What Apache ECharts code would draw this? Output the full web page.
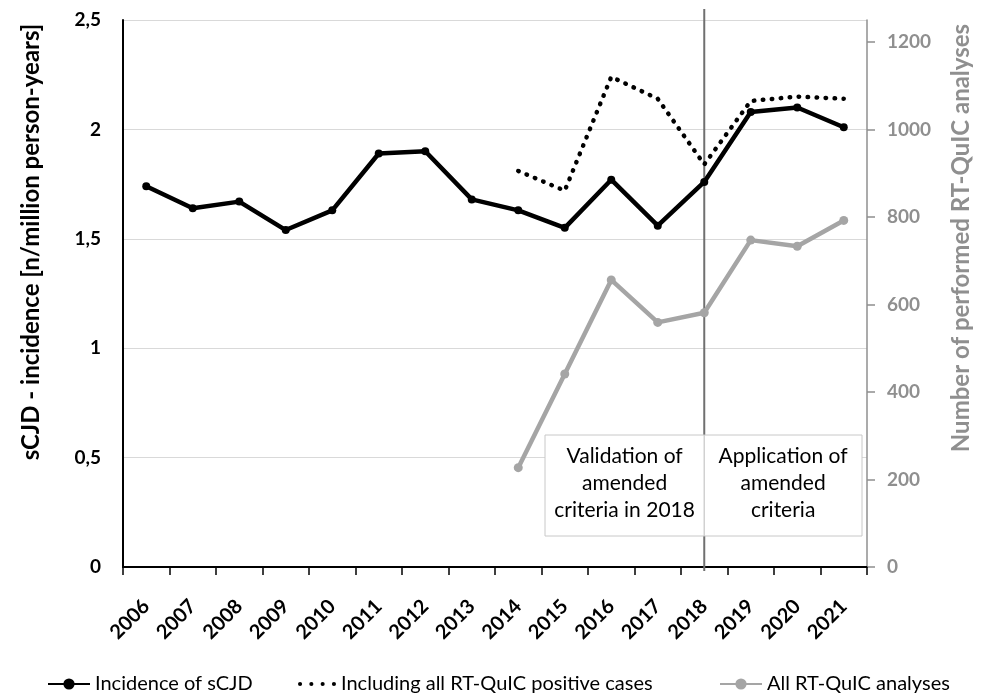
<!DOCTYPE html>
<html>
<head>
<meta charset="utf-8">
<script src="https://cdn.jsdelivr.net/npm/echarts@6/dist/echarts.min.js"></script>
<style>
  html, body { margin: 0; padding: 0; background: #ffffff; }
  #chart { width: 983px; height: 695px; }
</style>
</head>
<body>
<div id="chart"></div>
<script>
// Years on the category axis
const years = ['2006', '2007', '2008', '2009', '2010', '2011', '2012', '2013',
               '2014', '2015', '2016', '2017', '2018', '2019', '2020', '2021'];

// sCJD incidence per million person-years
const incidence = [1.74, 1.64, 1.67, 1.54, 1.63, 1.89, 1.90, 1.68,
                   1.63, 1.55, 1.77, 1.56, 1.76, 2.08, 2.10, 2.01];

// Incidence including all RT-QuIC positive cases (from 2014 on)
const incidenceInclPositive = [null, null, null, null, null, null, null, null,
                               1.81, 1.72, 2.24, 2.14, 1.84, 2.13, 2.15, 2.14];

// Number of RT-QuIC analyses performed per year (from 2014 on)
const rtquicAnalyses = [null, null, null, null, null, null, null, null,
                        227, 441, 656, 559, 581, 747, 733, 792];

// Axis ranges
const leftAxisRange = { min: 0, max: 2.5, interval: 0.5 };
const rightAxisRange = { min: 0, max: 1250, interval: 200 };

// Year separating validation and application of the amended criteria
const cutoffYear = '2018';

const FONT = 'Lato, "Open Sans", sans-serif';
const GREY_LINE = '#a5a5a5';
const GREY_TEXT = '#8f8f8f';

// Four round dots, used as the legend icon of the dotted series
const DOTS_ICON = 'path://' +
  'M0,2a2,2 0 1,0 4,0a2,2 0 1,0 -4,0Z' +
  'M11,2a2,2 0 1,0 4,0a2,2 0 1,0 -4,0Z' +
  'M22,2a2,2 0 1,0 4,0a2,2 0 1,0 -4,0Z' +
  'M33,2a2,2 0 1,0 4,0a2,2 0 1,0 -4,0Z';

const chart = echarts.init(document.getElementById('chart'));

const legendText = { fontFamily: FONT, fontSize: 20, color: '#000' };

chart.setOption({
  backgroundColor: '#ffffff',
  animation: false,
  textStyle: { fontFamily: FONT },
  grid: { left: 123, right: 116, top: 20, bottom: 128, containLabel: false },
  legend: [
    { data: ['Incidence of sCJD'], left: 42, top: 669, itemWidth: 42, itemHeight: 14, textStyle: legendText },
    { data: [{ name: 'Including all RT-QuIC positive cases', icon: DOTS_ICON }],
      left: 293, top: 669, itemWidth: 38, itemHeight: 5, textStyle: legendText },
    { data: ['All RT-QuIC analyses'], left: 714, top: 669, itemWidth: 42, itemHeight: 14, textStyle: legendText }
  ],
  xAxis: {
    type: 'category',
    data: years,
    boundaryGap: true,
    axisLine: { lineStyle: { color: '#000', width: 2 } },
    axisTick: { show: true, length: 8, lineStyle: { color: '#000', width: 1.5 } },
    axisLabel: {
      rotate: 45, margin: 36, interval: 0,
      fontFamily: FONT, fontSize: 20, fontWeight: 'bold', color: '#000'
    },
    splitLine: { show: false }
  },
  yAxis: [
    {
      type: 'value',
      position: 'left',
      min: leftAxisRange.min, max: leftAxisRange.max, interval: leftAxisRange.interval,
      axisLine: { show: true, lineStyle: { color: '#000', width: 2 } },
      axisTick: { show: false },
      axisLabel: {
        margin: 22, fontFamily: FONT, fontSize: 19, fontWeight: 'bold', color: '#000',
        formatter: v => String(v).replace('.', ',')
      },
      splitLine: { show: true, lineStyle: { color: '#d9d9d9', width: 1 } }
    },
    {
      type: 'value',
      position: 'right',
      min: rightAxisRange.min, max: rightAxisRange.max, interval: rightAxisRange.interval,
      axisLine: { show: true, lineStyle: { color: GREY_TEXT, width: 1.5 } },
      axisTick: { show: true, inside: false, length: 8, lineStyle: { color: GREY_TEXT, width: 1.5 } },
      axisLabel: {
        margin: 20, fontFamily: FONT, fontSize: 19, fontWeight: 'bold', color: GREY_TEXT,
        showMaxLabel: false,
        formatter: v => String(v)
      },
      splitLine: { show: false }
    }
  ],
  series: [
    {
      name: 'All RT-QuIC analyses',
      type: 'line',
      yAxisIndex: 1,
      data: rtquicAnalyses,
      symbol: 'circle', symbolSize: 9,
      lineStyle: { color: GREY_LINE, width: 4.5 },
      itemStyle: { color: GREY_LINE },
      z: 3
    },
    {
      name: 'Including all RT-QuIC positive cases',
      type: 'line',
      yAxisIndex: 0,
      data: incidenceInclPositive,
      symbol: 'none',
      lineStyle: { color: '#000', width: 4.5, type: [0.5, 8.5], cap: 'round' },
      itemStyle: { color: '#000' },
      z: 4
    },
    {
      name: 'Incidence of sCJD',
      type: 'line',
      yAxisIndex: 0,
      data: incidence,
      symbol: 'circle', symbolSize: 8,
      lineStyle: { color: '#000', width: 4.5 },
      itemStyle: { color: '#000' },
      z: 5
    }
  ]
});

// Vertical marker at the cut-off year plus the two annotation boxes
const cutX = chart.convertToPixel({ xAxisIndex: 0 }, cutoffYear);
const boxTop = 435, boxBottom = 536, boxLeft = 545, boxRight = 862;
const boxText = (lines, cx) => lines.map((t, i) => ({
  type: 'text',
  z: 12,
  style: {
    text: t, x: cx, y: boxTop + 21 + i * 27,
    align: 'center', verticalAlign: 'middle',
    fontFamily: FONT, fontSize: 21, fill: '#000'
  }
}));

chart.setOption({
  graphic: [
    {
      type: 'line', z: 1,
      shape: { x1: cutX, y1: 9, x2: cutX, y2: 571 },
      style: { stroke: '#707070', lineWidth: 2 }
    },
    {
      type: 'rect', z: 10,
      shape: { x: boxLeft, y: boxTop, width: cutX - boxLeft, height: boxBottom - boxTop },
      style: { fill: '#fff', stroke: '#c8c8c8', lineWidth: 1 }
    },
    {
      type: 'rect', z: 10,
      shape: { x: cutX, y: boxTop, width: boxRight - cutX, height: boxBottom - boxTop },
      style: { fill: '#fff', stroke: '#c8c8c8', lineWidth: 1 }
    },
    ...boxText(['Validation of', 'amended', 'criteria in 2018'], (boxLeft + cutX) / 2),
    ...boxText(['Application of', 'amended', 'criteria'], (cutX + boxRight) / 2),
    {
      type: 'text', z: 12,
      x: 31, y: 242, rotation: Math.PI / 2,
      style: {
        text: 'sCJD - incidence [n/million person-years]',
        align: 'center', verticalAlign: 'middle',
        fontFamily: FONT, fontSize: 24, fontWeight: 'bold', fill: '#000'
      }
    },
    {
      type: 'text', z: 12,
      x: 961, y: 238, rotation: Math.PI / 2,
      style: {
        text: 'Number of performed RT-QuIC analyses',
        align: 'center', verticalAlign: 'middle',
        fontFamily: FONT, fontSize: 24, fontWeight: 'bold', fill: GREY_TEXT
      }
    }
  ]
});
</script>
</body>
</html>
